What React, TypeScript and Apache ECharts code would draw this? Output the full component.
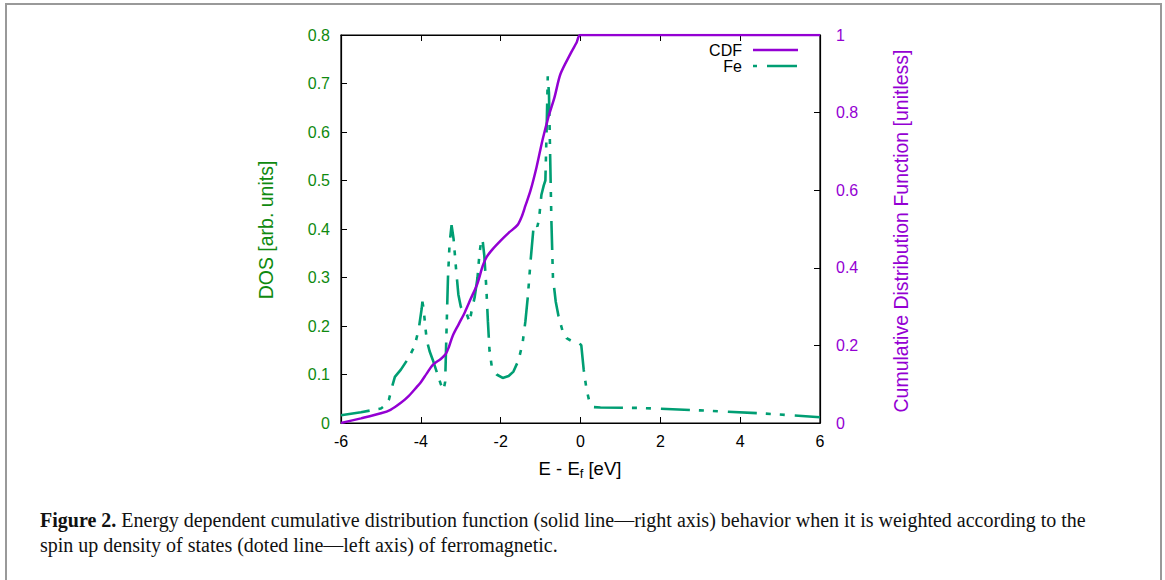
import React, { useEffect, useRef } from "react";
import * as echarts from "echarts";

// Fe spin-up DOS (left axis)
const dosE = [
  -6.0, -5.5, -5.0, -4.9, -4.8, -4.72, -4.65, -4.5, -4.3, -4.15, -4.05, -3.98, -3.96, -3.93, -3.89, -3.85,
  -3.78, -3.7, -3.6, -3.5, -3.43, -3.39, -3.36, -3.32, -3.28, -3.23, -3.18, -3.12, -3.06, -3.0, -2.92, -2.85,
  -2.78, -2.73, -2.65, -2.58, -2.53, -2.48, -2.45, -2.41, -2.36, -2.32, -2.28, -2.22, -2.1, -1.95, -1.8, -1.68,
  -1.55, -1.45, -1.38, -1.32, -1.25, -1.18, -1.12, -1.08, -1.04, -0.98, -0.92, -0.88, -0.85, -0.82, -0.79, -0.76,
  -0.73, -0.69, -0.62, -0.55, -0.45, -0.35, -0.2, -0.05, 0.02, 0.08, 0.15, 0.22, 0.3, 0.5, 1.5, 3.0, 4.5, 6.0,
];
const dosV = [
  0.016, 0.022, 0.030, 0.036, 0.048, 0.075, 0.095, 0.11, 0.135, 0.16, 0.195, 0.235, 0.25, 0.235, 0.2, 0.17,
  0.148, 0.13, 0.105, 0.08, 0.068, 0.085, 0.18, 0.3, 0.37, 0.408, 0.38, 0.32, 0.265, 0.24, 0.228, 0.225,
  0.208, 0.23, 0.26, 0.3, 0.35, 0.38, 0.375, 0.345, 0.28, 0.21, 0.15, 0.115, 0.1, 0.093, 0.097, 0.106,
  0.13, 0.165, 0.21, 0.26, 0.335, 0.4, 0.41, 0.405, 0.42, 0.47, 0.49, 0.5, 0.6, 0.715, 0.68, 0.55,
  0.42, 0.3, 0.25, 0.22, 0.19, 0.175, 0.168, 0.167, 0.16, 0.11, 0.07, 0.045, 0.033, 0.032, 0.031, 0.026, 0.02, 0.012,
];

// Cumulative distribution function (right axis)
const cdfE = [
  -6.0, -5.5, -5.0, -4.76, -4.5, -4.3, -4.1, -4.0, -3.85, -3.7, -3.5, -3.38, -3.3, -3.2, -3.05, -2.9, -2.75,
  -2.58, -2.45, -2.35, -2.2, -2.0, -1.8, -1.58, -1.48, -1.38, -1.25, -1.1, -0.95, -0.8, -0.65, -0.5, -0.25,
  -0.1, 0.0, 6.0,
];
const cdfV = [
  0, 0.012, 0.025, 0.034, 0.052, 0.07, 0.093, 0.105, 0.128, 0.15, 0.165, 0.177, 0.195, 0.225, 0.255, 0.285, 0.32,
  0.36, 0.405, 0.428, 0.448, 0.47, 0.49, 0.51, 0.53, 0.56, 0.6, 0.66, 0.73, 0.79, 0.84, 0.9, 0.952,
  0.98, 1.0, 1.0,
];

const xTicks = { min: -6, max: 6, step: 2 };
const leftTicks = { min: 0, max: 0.8, step: 0.1 };
const rightTicks = { min: 0, max: 1, step: 0.2 };

const legendNames = ["CDF", "Fe"];
const xAxisTitle = ["E - E", "f", " [eV]"];
const leftTitle = "DOS [arb. units]";
const rightTitle = "Cumulative Distribution Function [unitless]";
const captionBold = "Figure 2.";
const captionLine1 = " Energy dependent cumulative distribution function (solid line\u2014right axis) behavior when it is weighted according to the";
const captionLine2 = "spin up density of states (doted line\u2014left axis) of ferromagnetic.";

const PURPLE = "#9400D3";
const GREEN = "#009E73";
const AXGREEN = "#0f8a0f";
const SANS = "'Liberation Sans', Arial, sans-serif";
const SERIF = "'Liberation Serif', 'DejaVu Serif', serif";
const DASH = [29, 9, 5, 9, 5, 10];

export default function App() {
  const ref = useRef<HTMLDivElement>(null);
  useEffect(() => {
    if (!ref.current) return;
    const chart = echarts.init(ref.current, undefined, { renderer: "svg" });
    const fmt = (v: number) => {
      const r = Math.round(v * 10) / 10;
      return String(r);
    };
    const axLine = { show: true, onZero: false, lineStyle: { color: "#000", width: 1.2 } };
    const axTick = { show: true, inside: true, length: 6, lineStyle: { color: "#000" } };
    chart.setOption({
      animation: false,
      backgroundColor: "#ffffff",
      grid: {
        left: 341,
        right: 345,
        top: 35,
        bottom: 157,
        show: true,
        borderColor: "#000",
        borderWidth: 1.2,
      },
      xAxis: [
        {
          type: "value",
          min: xTicks.min,
          max: xTicks.max,
          interval: xTicks.step,
          position: "bottom",
          axisLine: axLine,
          axisTick: axTick,
          axisLabel: { color: "#000", fontSize: 16, fontFamily: SANS, margin: 10 },
          splitLine: { show: false },
        },
        {
          type: "value",
          min: xTicks.min,
          max: xTicks.max,
          interval: xTicks.step,
          position: "top",
          axisLine: axLine,
          axisTick: axTick,
          axisLabel: { show: false },
          splitLine: { show: false },
        },
      ],
      yAxis: [
        {
          type: "value",
          min: leftTicks.min,
          max: leftTicks.max,
          interval: leftTicks.step,
          position: "left",
          axisLine: axLine,
          axisTick: axTick,
          axisLabel: { color: AXGREEN, fontSize: 16, fontFamily: SANS, margin: 11, formatter: fmt },
          splitLine: { show: false },
        },
        {
          type: "value",
          min: rightTicks.min,
          max: rightTicks.max,
          interval: rightTicks.step,
          position: "right",
          axisLine: axLine,
          axisTick: axTick,
          axisLabel: { color: PURPLE, fontSize: 16, fontFamily: SANS, margin: 16, formatter: fmt },
          splitLine: { show: false },
        },
      ],
      series: [
        {
          name: legendNames[0],
          type: "line",
          xAxisIndex: 0,
          yAxisIndex: 1,
          data: cdfE.map((e, i) => [e, cdfV[i]]),
          showSymbol: false,
          smooth: 0.3,
          lineStyle: { color: PURPLE, width: 2.5 },
          z: 3,
        },
        {
          name: legendNames[1],
          type: "line",
          xAxisIndex: 0,
          yAxisIndex: 0,
          data: dosE.map((e, i) => [e, dosV[i]]),
          showSymbol: false,
          lineStyle: { color: GREEN, width: 2.6, type: DASH },
          z: 2,
        },
      ],
      graphic: [
        {
          type: "rect",
          shape: { x: 6, y: 4, width: 1155, height: 590 },
          style: { fill: "none", stroke: "#999", lineWidth: 2 },
          silent: true,
        },
        {
          type: "text",
          x: 742,
          y: 50,
          style: { text: legendNames[0], font: `16px ${SANS}`, fill: "#000", align: "right", verticalAlign: "middle" },
        },
        {
          type: "line",
          shape: { x1: 753, y1: 50, x2: 798, y2: 50 },
          style: { stroke: PURPLE, lineWidth: 2.5 },
        },
        {
          type: "text",
          x: 742,
          y: 66,
          style: { text: legendNames[1], font: `16px ${SANS}`, fill: "#000", align: "right", verticalAlign: "middle" },
        },
        {
          type: "line",
          shape: { x1: 753, y1: 66, x2: 797, y2: 66 },
          style: { stroke: GREEN, lineWidth: 2.6, lineDash: [4, 10, 30, 10] },
        },
        {
          type: "text",
          x: 580,
          y: 468,
          style: {
            text: `{a|${xAxisTitle[0]}}{s|${xAxisTitle[1]}}{a|${xAxisTitle[2]}}`,
            align: "center",
            verticalAlign: "middle",
            rich: {
              a: { fontSize: 18.5, fontFamily: SANS, fill: "#000", lineHeight: 22 },
              s: { fontSize: 13, fontFamily: SANS, fill: "#000", lineHeight: 22, padding: [10, 0, 0, 0] },
            },
          },
        },
        {
          type: "text",
          x: 266,
          y: 230,
          rotation: Math.PI / 2,
          style: { text: leftTitle, font: `19.5px ${SANS}`, fill: AXGREEN, align: "center", verticalAlign: "middle" },
        },
        {
          type: "text",
          x: 901,
          y: 231,
          rotation: Math.PI / 2,
          style: { text: rightTitle, font: `19.5px ${SANS}`, fill: PURPLE, align: "center", verticalAlign: "middle" },
        },
        {
          type: "text",
          x: 40,
          y: 520,
          style: {
            text: `{b|${captionBold}}{r|${captionLine1}}`,
            verticalAlign: "middle",
            rich: {
              b: { fontSize: 20, fontFamily: SERIF, fontWeight: "bold", fill: "#111" },
              r: { fontSize: 20, fontFamily: SERIF, fill: "#111" },
            },
          },
        },
        {
          type: "text",
          x: 40,
          y: 545,
          style: { text: captionLine2, font: `20px ${SERIF}`, fill: "#111", verticalAlign: "middle" },
        },
      ],
    });
    return () => chart.dispose();
  }, []);
  return (
    <div
      ref={ref}
      style={{ position: "absolute", left: 0, top: 0, width: 1165, height: 580, background: "#fff" }}
    />
  );
}
